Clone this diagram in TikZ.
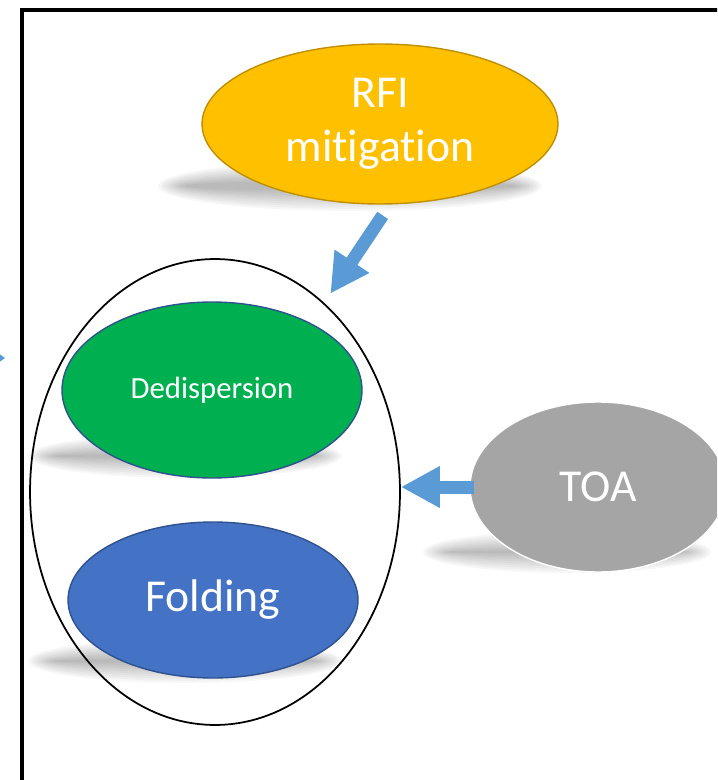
\documentclass[tikz,border=0pt]{standalone}
\usepackage{fontspec}
\setmainfont{Carlito}[Ligatures=NoCommon]
\usetikzlibrary{shapes.geometric,arrows.meta}
\definecolor{rfigold}{HTML}{FFC000}
\definecolor{rfiedge}{HTML}{BF9000}
\definecolor{dedgreen}{HTML}{00B050}
\definecolor{foldblue}{HTML}{4472C4}
\definecolor{edgeblue}{HTML}{2F528F}
\definecolor{toagray}{HTML}{A5A5A5}
\definecolor{arrowblue}{HTML}{5B9BD5}
% soft shadow under a shape: centre, x radius, y radius
\newcommand{\softshadow}[3]{%
  \foreach \k in {0,...,9}
    \fill[black, opacity=0.032] (#1) ellipse ({#2+12-\k*3} and {#3+8-\k*2.2});}
\begin{document}
\begin{tikzpicture}[x=0.02cm, y=-0.02cm]
  \tikzstyle{e} = [shape=ellipse, inner sep=0pt, text=white, font=\fontsize{26}{31}\selectfont, align=center]
  \tikzstyle{blockarrow} = [draw=arrowblue, line width=0.26cm, -{Triangle[width=0.78cm, length=0.78cm]}]
  \useasboundingbox (0,0) rectangle (717,780);
  \clip (0,0) rectangle (717,780);

  % Rahmen
  \draw[line width=0.08cm] (22,10) rectangle (760,820);
  \fill[arrowblue] (-20,340) -- (5,358) -- (-20,376) -- cycle;

  % Schatten
  \softshadow{350,186}{180}{17}
  \softshadow{185,456}{145}{14}
  \softshadow{185,661}{145}{14}
  \softshadow{567,552}{132}{13}

  % Knoten
  \node[e, fill=rfigold, draw=rfiedge, line width=0.8pt, minimum width=7.12cm, minimum height=3.2cm] (rfi) at (380,124) {RFI\\mitigation};
  \node[draw, line width=1pt, shape=ellipse, minimum width=7.4cm, minimum height=9.32cm] (outer) at (215,492) {};
  \node[e, fill=dedgreen, draw=edgeblue, line width=0.8pt, minimum width=6cm, minimum height=3.52cm, font=\fontsize{17.5}{21}\selectfont] (dedisp) at (212,390) {Dedispersion};
  \node[e, fill=foldblue, draw=edgeblue, line width=0.8pt, minimum width=5.8cm, minimum height=3.12cm] (fold) at (213,600) {Folding};
  \node[e, fill=toagray, draw=white, line width=0.8pt, minimum width=5.12cm, minimum height=3.4cm] (toa) at (598,487) {TOA};

  % Pfeile
  \draw[blockarrow, shorten <=0.26cm, shorten >=0.22cm] (rfi.277) -- (outer.60);
  \draw[blockarrow, shorten <=-0.1cm] (toa.west) -- (toa.west -| outer.east);
\end{tikzpicture}
\end{document}
